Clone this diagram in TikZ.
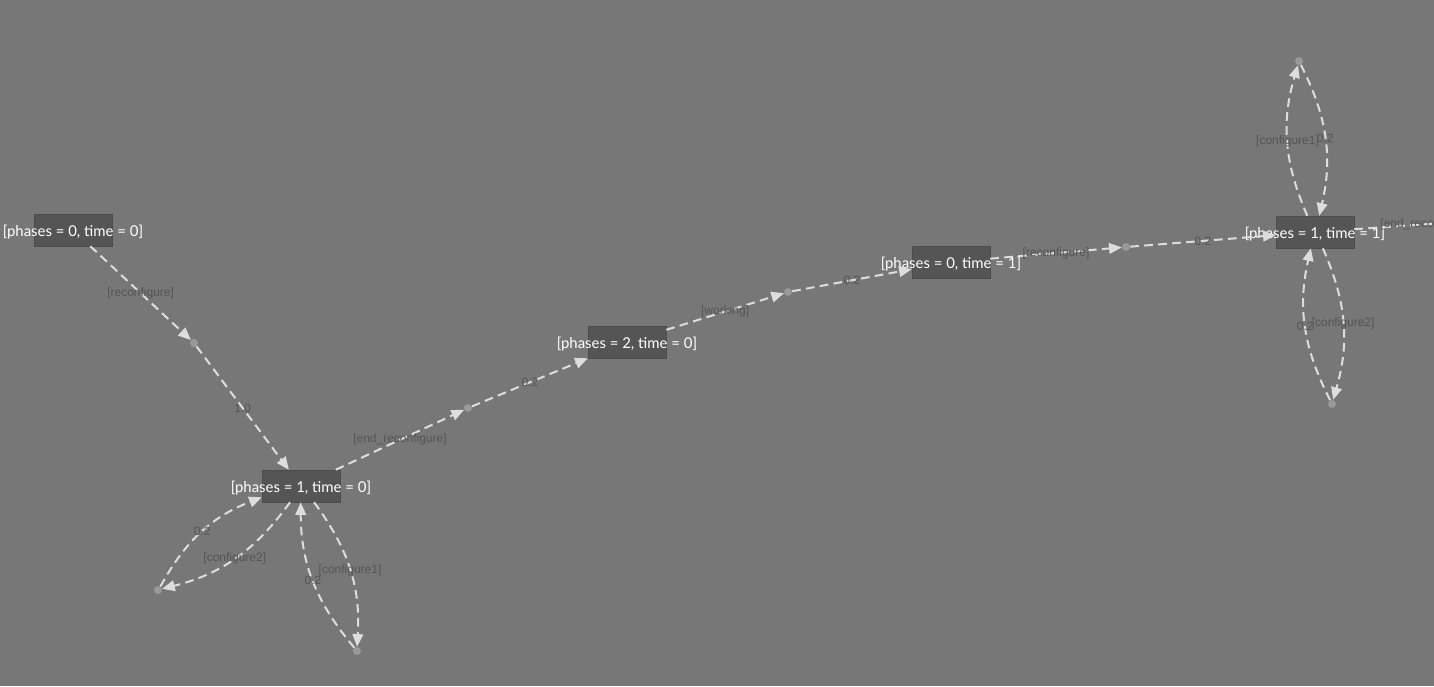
\documentclass[tikz,border=0pt]{standalone}
\usepackage{fontspec}
\setmainfont{Lato}
\newfontfamily\labelfont{Liberation Sans}
\usepackage{tikz}
\usetikzlibrary{arrows.meta}
\definecolor{bggray}{HTML}{777777}
\definecolor{boxgray}{HTML}{555555}
\definecolor{edgegray}{HTML}{DDDDDD}
\definecolor{dotgray}{HTML}{999999}
\definecolor{labelgray}{HTML}{555555}
\newcommand{\statetext}[1]{\makebox[0pt]{\raisebox{-1.5pt}[\height][\depth]{#1}}}

\begin{document}
\begin{tikzpicture}[
  x=0.75pt, y=-0.75pt,
  box/.style={fill=boxgray, draw=boxgray!90!black, minimum width=58.5pt, minimum height=24pt, inner sep=0pt, text=white, font=\fontsize{11.2}{13}\selectfont},
  dot/.style={circle, fill=dotgray, minimum size=6pt, inner sep=0pt},
  arrow/.style={-{Triangle[length=9.5pt, width=8pt]}, draw=edgegray, line width=1.5pt, dash pattern=on 6.5pt off 4pt},
  lbl/.style={text=labelgray, font=\labelfont\fontsize{9}{10}\selectfont, inner sep=1pt}
]
\useasboundingbox (0,0) rectangle (1434,686);
\fill[bggray] (0,0) rectangle (1434,686);
\clip (0,0) rectangle (1434,686);

\node[box] (p0t0) at (73,230) {\statetext{[phases = 0, time = 0]}};
\node[box] (p1t0) at (301,486) {\statetext{[phases = 1, time = 0]}};
\node[box] (p2t0) at (627,342) {\statetext{[phases = 2, time = 0]}};
\node[box] (p0t1) at (951,262) {\statetext{[phases = 0, time = 1]}};
\node[box] (p1t1) at (1315,232) {\statetext{[phases = 1, time = 1]}};

\node[dot] (recfg0) at (194,343) {};
\node[dot] (endrec0) at (468,408) {};
\node[dot] (work0) at (788,292) {};
\node[dot] (recfg1) at (1126,247) {};
\node[dot] (cfg2a) at (158,590) {};
\node[dot] (cfg1a) at (357,651) {};
\node[dot] (cfg1b) at (1299,61) {};
\node[dot] (cfg2b) at (1332,404) {};
\coordinate (endrec1) at (1500,219);

\draw[arrow] (p0t0) -- node[lbl] {[reconfigure]} (recfg0);
\draw[arrow] (recfg0) -- node[lbl] {1.0} (p1t0);
\draw[arrow] (p1t0) -- node[lbl] {[end\_reconfigure]} (endrec0);
\draw[arrow] (endrec0) -- node[lbl] {0.2} (p2t0);
\draw[arrow] (p2t0) -- node[lbl] {[working]} (work0);
\draw[arrow] (work0) -- node[lbl] {0.2} (p0t1);
\draw[arrow] (p0t1) -- node[lbl] {[reconfigure]} (recfg1);
\draw[arrow] (recfg1) -- node[lbl] {0.2} (p1t1);
\draw[arrow] (p1t1) -- node[lbl] {[end\_reconfigure]} (endrec1);

\draw[arrow] (p1t0) to[bend left=20] node[lbl] {[configure2]} (cfg2a);
\draw[arrow] (cfg2a) to[bend left=20] node[lbl] {0.2} (p1t0);
\draw[arrow] (p1t0) to[bend left=20] node[lbl] {[configure1]} (cfg1a);
\draw[arrow] (cfg1a) to[bend left=20] node[lbl] {0.2} (p1t0);
\draw[arrow] (p1t1) to[bend left=20] node[lbl] {[configure1]} (cfg1b);
\draw[arrow] (cfg1b) to[bend left=20] node[lbl] {0.2} (p1t1);
\draw[arrow] (p1t1) to[bend left=20] node[lbl] {[configure2]} (cfg2b);
\draw[arrow] (cfg2b) to[bend left=20] node[lbl] {0.2} (p1t1);
\end{tikzpicture}
\end{document}
